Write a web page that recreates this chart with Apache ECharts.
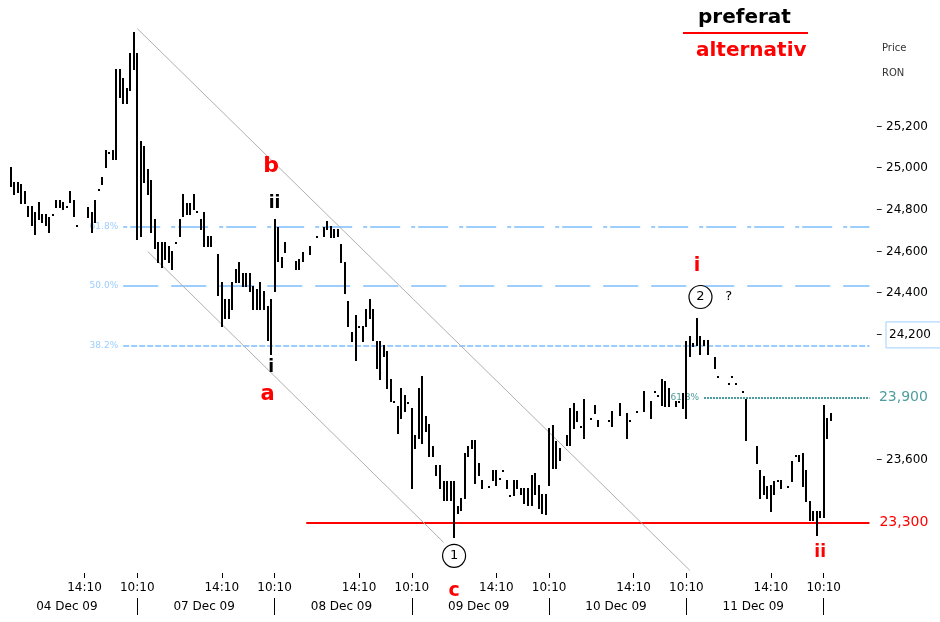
<!DOCTYPE html>
<html>
<head>
<meta charset="utf-8">
<script src="https://cdn.jsdelivr.net/npm/echarts@6/dist/echarts.min.js"></script>
<style>
  html, body { margin: 0; padding: 0; background: #fff; }
  #chart { width: 940px; height: 622px; }
</style>
</head>
<body>
<div id="chart"></div>
<script>
// Trading days shown on the axis; each session is 39 ten-minute bars (10:10 - 16:30)
const tradingDays = ['04 Dec 09', '07 Dec 09', '08 Dec 09', '09 Dec 09', '10 Dec 09', '11 Dec 09', '14 Dec 09'];

// 10-minute bars per session: [low, high] in RON, null where nothing traded
const bars04Dec = [
  null, null, null, [24910, 25000], [24870, 24930], [24880, 24930], [24830, 24920], [24830, 24885],
  [24765, 24815], [24725, 24815], [24680, 24785], [24750, 24835], [24735, 24775], [24725, 24775],
  [24690, 24760], [24775, 24775], [24810, 24845], [24810, 24845], [24800, 24835], [24815, 24815],
  [24835, 24885], [24765, 24845], [24725, 24725], null, null, [24760, 24810], [24690, 24785],
  [24735, 24845], [24895, 24895], [24920, 24955], [25000, 25085], [25075, 25075], [25040, 25085],
  [25040, 25470], [25335, 25470], [25310, 25430], [25310, 25380], [25370, 25550], [25470, 25650]
];
const bars07Dec = [
  [24655, 25550], [24670, 25125], [24930, 25100], [24870, 24990], [24690, 24940], [24610, 24750],
  [24545, 24640], [24520, 24640], [24560, 24640], [24545, 24620], [24510, 24600], [24640, 24640],
  [24670, 24750], [24765, 24870], [24775, 24830], [24775, 24830], [24800, 24870], [24790, 24790],
  [24705, 24750], [24620, 24785], [24620, 24670], [24620, 24670], null, [24385, 24585],
  [24240, 24450], [24275, 24370], [24275, 24370], [24320, 24450], [24450, 24510], [24450, 24545],
  [24430, 24490], [24430, 24490], [24405, 24490], [24320, 24430], [24320, 24415], [24320, 24450],
  [24320, 24405], [24170, 24335], [24105, 24370]
];
const bars08Dec = [
  [24405, 24750], [24550, 24715], [24520, 24570], [24595, 24640], null, null, [24510, 24550],
  [24510, 24560], [24550, 24595], null, [24585, 24620], null, [24670, 24670], null,
  [24670, 24715], [24705, 24740], [24665, 24720], [24665, 24705], [24670, 24705], [24545, 24630],
  [24395, 24545], [24240, 24360], [24165, 24210], [24075, 24290], [24240, 24240], [24165, 24240],
  [24240, 24320], [24275, 24370], [24170, 24320], [24035, 24165], [23985, 24165], [24095, 24145],
  [23940, 24120], [23880, 23985], [23880, 23880], [23725, 23855], [23795, 23940], [23830, 23905],
  [23875, 23875]
];
const bars09Dec = [
  [23460, 23845], [23655, 23715], [23700, 23940], [23675, 24000], [23735, 23805], [23615, 23770],
  [23615, 23660], [23525, 23570], [23460, 23570], [23405, 23495], [23405, 23495], [23405, 23495],
  [23225, 23495], [23340, 23375], [23355, 23415], [23415, 23630], [23615, 23660], [23655, 23690],
  [23485, 23690], [23525, 23580], [23460, 23500], null, [23470, 23470], [23500, 23545],
  [23475, 23545], [23510, 23510], [23545, 23545], [23460, 23500], [23425, 23425], [23425, 23500],
  [23460, 23500], [23430, 23460], [23390, 23460], [23380, 23460], [23380, 23525], [23430, 23535],
  [23365, 23475], [23340, 23430], [23335, 23430]
];
const bars10Dec = [
  [23475, 23750], [23555, 23765], [23555, 23685], [23595, 23655], null, [23665, 23715],
  [23665, 23845], [23750, 23870], [23780, 23830], [23760, 23760], [23700, 23890], null,
  [23795, 23795], [23820, 23860], [23760, 23785], null, null, [23785, 23785], [23760, 23830],
  null, [23810, 23870], null, [23700, 23820], [23785, 23785], null, [23830, 23830], null,
  [23830, 23925], null, [23795, 23880], [23925, 23925], [23905, 23905], [23860, 23985],
  [23855, 23975], [23855, 23940], null, [23855, 23880], [23875, 23880], [23845, 23915]
];
const bars11Dec = [
  [23795, 24165], [24095, 24190], [24140, 24155], [24145, 24275], [24105, 24190], [24145, 24170],
  [24105, 24170], null, [24035, 24090], [24000, 24000], null, null, [23965, 23965],
  [24000, 24000], [23965, 23965], null, [23925, 23925], [23690, 23890], null, null,
  [23580, 23660], [23415, 23545], [23430, 23520], [23415, 23470], [23350, 23475], [23430, 23495],
  [23500, 23500], [23460, 23500], null, [23470, 23470], [23495, 23590], [23620, 23620],
  [23590, 23620], [23470, 23630], [23400, 23545], [23305, 23400], [23305, 23350], [23235, 23350],
  [23320, 23350]
];
const bars14Dec = [
  [23320, 23860], [23700, 23795], [23785, 23820], null, null, null, null, null, null, null, null, null, null, null
];

// Fibonacci retracement levels of the 25,650 -> 23,225 decline
const fibLevels = [24720, 24435, 24150];
const fibNames = ['61.8%', '50.0%', '38.2%'];

// Horizontal support / resistance levels
const supportLevel = 23300;
const resistanceLevel = 23900;
const resistanceName = '61.8%';

// Descending channel (bar index, price)
const channelUpper = [[39, 25670], [196, 23070]];
const channelLower = [[42, 24600], [126, 23205]];

// Price axis labels that are printed
const priceTickLabels = [23600, 24200, 24400, 24600, 24800, 25000, 25200];

// ---------------------------------------------------------------
const SLOTS_PER_DAY = 39;
const dailyBars = [bars04Dec, bars07Dec, bars08Dec, bars09Dec, bars10Dec, bars11Dec, bars14Dec];

function sessionTime(k) {
  const m = 10 * 60 + 10 + k * 10;
  const hh = Math.floor(m / 60), mm = m % 60;
  return hh + ':' + (mm < 10 ? '0' : '') + mm;
}

const categories = [];
const barData = [];
dailyBars.forEach((day, d) => {
  day.forEach((b, k) => {
    const idx = categories.length;
    categories.push(tradingDays[d] + '|' + sessionTime(k));
    if (b) barData.push([idx, b[0], b[1]]);
  });
});
const lastIdx = categories.length - 1;

const fmtNum = (v) => String(v).replace(/(\d)(\d{3})$/, '$1,$2');

const FONT = 'DejaVu Sans';
const RED = '#ff0000';
const FIB_BLUE = '#9ccdff';
const TEAL = '#4f9c9c';
const fibDash = [[4, 3, 30, 11], [35, 13], [6, 2]];

const markLines = [];
fibLevels.forEach((v, i) => {
  markLines.push([
    {
      coord: [35, v],
      lineStyle: { color: FIB_BLUE, width: 2, type: fibDash[i] },
      label: { show: true, position: 'start', formatter: fibNames[i], color: FIB_BLUE, fontSize: 9, fontFamily: FONT, distance: 5 }
    },
    { coord: [lastIdx, v] }
  ]);
});
markLines.push([
  {
    coord: [87, supportLevel],
    lineStyle: { color: RED, width: 2, type: 'solid' },
    label: { show: true, position: 'end', formatter: fmtNum(supportLevel), color: RED, fontSize: 14, fontFamily: FONT, distance: 10 }
  },
  { coord: [lastIdx, supportLevel] }
]);
markLines.push([
  {
    coord: [199.5, resistanceLevel],
    lineStyle: { color: TEAL, width: 2, type: [2, 1] },
    label: { show: true, position: 'start', formatter: resistanceName, color: TEAL, fontSize: 9, fontFamily: FONT, distance: 5 }
  },
  { coord: [lastIdx, resistanceLevel] }
]);
[channelUpper, channelLower].forEach((c) => {
  markLines.push([
    { coord: c[0], lineStyle: { color: '#b0b0b0', width: 1, type: 'solid' }, label: { show: false } },
    { coord: c[1] }
  ]);
});

function textMark(coord, text, color, size, weight) {
  return {
    coord: coord,
    symbol: 'circle',
    symbolSize: 1,
    itemStyle: { color: 'rgba(0,0,0,0)' },
    label: { show: true, position: 'inside', formatter: text, color: color, fontSize: size,
      fontWeight: weight || 'bold', fontFamily: FONT }
  };
}
function circleMark(coord, text) {
  return {
    coord: coord,
    symbol: 'circle',
    symbolSize: 23,
    itemStyle: { color: '#fff', borderColor: '#000', borderWidth: 1.2 },
    label: { show: true, position: 'inside', formatter: text, color: '#000', fontSize: 13, fontFamily: FONT }
  };
}

const cMark = textMark([129.3, 23000], 'c', RED, 19);
cMark.label.offset = [0, 6];

// price tag of the resistance line, printed on the price scale side
const resistanceTag = textMark([lastIdx, resistanceLevel], fmtNum(resistanceLevel), TEAL, 14, 'normal');
resistanceTag.label.position = 'right';
resistanceTag.label.distance = 9;

const waveMarks = [
  textMark([77.3, 25011], 'b', RED, 22),
  textMark([77.6, 24828], 'ii', '#000', 17),
  textMark([77.0, 24042], 'i', '#000', 17),
  textMark([76.1, 23912], 'a', RED, 21),
  textMark([198.3, 24531], 'i', RED, 19),
  circleMark([198.9, 24382], '2'),
  textMark([207.1, 24382], '?', '#000', 13, 'normal'),
  circleMark([129.3, 23140], '1'),
  cMark,
  textMark([233, 23154], 'ii', RED, 17),
  resistanceTag
];

function renderBar(params, api) {
  const hi = api.coord([api.value(0), api.value(2)]);
  const lo = api.coord([api.value(0), api.value(1)]);
  const x = Math.round(hi[0]) - 1;
  const top = Math.round(hi[1]) - 1;
  const h = Math.max(2, Math.round(lo[1]) - Math.round(hi[1]) + 1);
  return { type: 'rect', shape: { x: x, y: top, width: 2, height: h }, style: { fill: '#000' } };
}

const isTimeTick = (i) => { const k = i % SLOTS_PER_DAY; return (k === 24 && i < 6 * SLOTS_PER_DAY) || (k === 0 && i > 0); };
const isDaySeparator = (i) => i % SLOTS_PER_DAY === 0 && i > 0;
const isDayLabel = (i) => i % SLOTS_PER_DAY === 19 && i < 6 * SLOTS_PER_DAY;

const option = {
  animation: false,
  backgroundColor: '#ffffff',
  grid: { left: -1.76, right: 68.8, top: 1.5, bottom: 37, containLabel: false, outerBoundsMode: 'none' },
  xAxis: [
    {
      type: 'category', data: categories, boundaryGap: true, position: 'bottom', offset: -12,
      axisLine: { show: false },
      axisTick: { show: true, alignWithLabel: true, length: 5, interval: isTimeTick, lineStyle: { color: '#000' } },
      axisLabel: { interval: isTimeTick, margin: 9, color: '#000', fontSize: 12, fontFamily: FONT,
        formatter: (v) => v.split('|')[1] },
      splitLine: { show: false }
    },
    {
      type: 'category', data: categories, boundaryGap: true, position: 'bottom', offset: 13,
      axisLine: { show: false },
      axisTick: { show: true, alignWithLabel: true, length: 17, interval: isDaySeparator, lineStyle: { color: '#000' } },
      axisLabel: { interval: isDayLabel, margin: 3, color: '#000', fontSize: 12, fontFamily: FONT,
        formatter: (v) => v.split('|')[0] },
      splitLine: { show: false }
    }
  ],
  yAxis: {
    type: 'value', position: 'right', min: 23000, max: 25800, interval: 200,
    splitLine: { show: false }, axisLine: { show: false }, axisTick: { show: false },
    axisLabel: {
      margin: 5, color: '#000', fontSize: 12, fontFamily: FONT,
      formatter: (v) => {
        if (priceTickLabels.indexOf(v) < 0) return '';
        if (v === 24200) return '– {box|' + fmtNum(v) + '}';
        return '– ' + fmtNum(v);
      },
      rich: {
        box: { color: '#000', fontSize: 12, fontFamily: FONT, borderColor: '#9fcfff', borderWidth: 1,
          padding: [7, 20, 7, 3] }
      }
    }
  },
  graphic: [
    { type: 'text', left: 698, top: 8, style: { text: 'preferat', fill: '#000', font: 'bold 20px "DejaVu Sans"' } },
    { type: 'line', shape: { x1: 683, y1: 33, x2: 808, y2: 33 }, style: { stroke: RED, lineWidth: 2 } },
    { type: 'text', left: 696, top: 41, style: { text: 'alternativ', fill: RED, font: 'bold 20px "DejaVu Sans"' } },
    { type: 'text', left: 882, top: 43, style: { text: 'Price', fill: '#333', font: '10px "DejaVu Sans"' } },
    { type: 'text', left: 882, top: 68, style: { text: 'RON', fill: '#333', font: '10px "DejaVu Sans"' } }
  ],
  series: [
    {
      type: 'custom',
      name: 'Price',
      xAxisIndex: 0,
      yAxisIndex: 0,
      data: barData,
      encode: { x: 0, y: [1, 2] },
      renderItem: renderBar,
      clip: false,
      z: 3,
      markLine: { silent: true, symbol: ['none', 'none'], animation: false, data: markLines, z: 2 },
      markPoint: { silent: true, animation: false, data: waveMarks, z: 5 }
    }
  ]
};

const chart = echarts.init(document.getElementById('chart'));
chart.setOption(option);
</script>
</body>
</html>
